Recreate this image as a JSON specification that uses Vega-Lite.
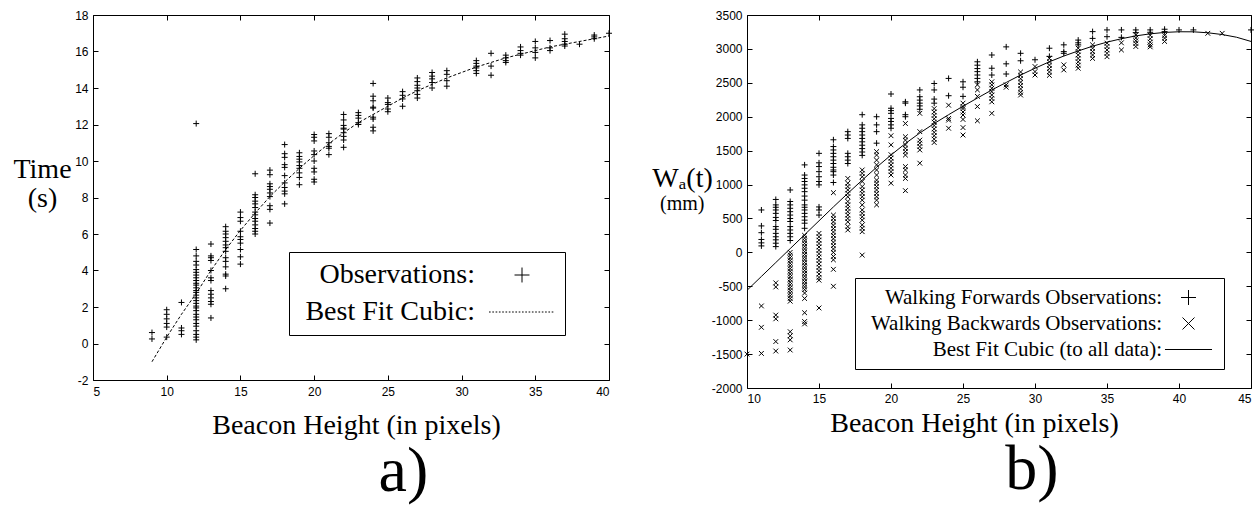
{
  "$schema": "https://vega.github.io/schema/vega-lite/v6.json",
  "padding": {"left": 12, "top": 8, "right": 2, "bottom": 2},
  "config": {
    "view": {"stroke": "black", "strokeWidth": 1},
    "axis": {"grid": false, "domain": false, "tickColor": "black", "tickWidth": 1, "tickSize": -5, "labelFont": "Liberation Sans", "labelFontSize": 12, "labelColor": "black", "labelPadding": 10, "titleFont": "Liberation Serif", "titleFontSize": 28, "titleFontWeight": "normal", "titleColor": "black", "labelExpr": "replace(datum.label, '\u2212', '-')"},
    "title": {"font": "Liberation Serif", "fontWeight": "normal", "color": "black"},
    "legend": {"labelFont": "Liberation Serif", "labelColor": "black", "labelLimit": 0, "title": null}
  },
  "datasets": {
    "obsA": [
      {"h":9,"v":0.6,"s":"Observations:"},{"h":9,"v":0.25,"s":"Observations:"},
      {"h":10,"v":1.85,"s":"Observations:"},{"h":10,"v":1.6,"s":"Observations:"},{"h":10,"v":1.35,"s":"Observations:"},{"h":10,"v":1.1,"s":"Observations:"},{"h":10,"v":0.9,"s":"Observations:"},{"h":10,"v":0.35,"s":"Observations:"},
      {"h":11,"v":2.25,"s":"Observations:"},{"h":11,"v":0.85,"s":"Observations:"},{"h":11,"v":0.7,"s":"Observations:"},{"h":11,"v":0.5,"s":"Observations:"},
      {"h":12,"v":12.05,"s":"Observations:"},{"h":12,"v":5.15,"s":"Observations:"},{"h":12,"v":4.8,"s":"Observations:"},{"h":12,"v":4.5,"s":"Observations:"},{"h":12,"v":4.3,"s":"Observations:"},{"h":12,"v":4.05,"s":"Observations:"},{"h":12,"v":3.9,"s":"Observations:"},{"h":12,"v":3.75,"s":"Observations:"},{"h":12,"v":3.6,"s":"Observations:"},{"h":12,"v":3.45,"s":"Observations:"},{"h":12,"v":3.3,"s":"Observations:"},{"h":12,"v":3.2,"s":"Observations:"},{"h":12,"v":3.05,"s":"Observations:"},{"h":12,"v":2.9,"s":"Observations:"},{"h":12,"v":2.8,"s":"Observations:"},{"h":12,"v":2.65,"s":"Observations:"},{"h":12,"v":2.5,"s":"Observations:"},{"h":12,"v":2.35,"s":"Observations:"},{"h":12,"v":2.2,"s":"Observations:"},{"h":12,"v":2.05,"s":"Observations:"},{"h":12,"v":1.95,"s":"Observations:"},{"h":12,"v":1.8,"s":"Observations:"},{"h":12,"v":1.6,"s":"Observations:"},{"h":12,"v":1.45,"s":"Observations:"},{"h":12,"v":1.3,"s":"Observations:"},{"h":12,"v":1.1,"s":"Observations:"},{"h":12,"v":0.95,"s":"Observations:"},{"h":12,"v":0.7,"s":"Observations:"},{"h":12,"v":0.5,"s":"Observations:"},{"h":12,"v":0.35,"s":"Observations:"},{"h":12,"v":0.2,"s":"Observations:"},
      {"h":13,"v":5.45,"s":"Observations:"},{"h":13,"v":4.8,"s":"Observations:"},{"h":13,"v":4.7,"s":"Observations:"},{"h":13,"v":4.55,"s":"Observations:"},{"h":13,"v":4.0,"s":"Observations:"},{"h":13,"v":3.6,"s":"Observations:"},{"h":13,"v":3.45,"s":"Observations:"},{"h":13,"v":2.9,"s":"Observations:"},{"h":13,"v":2.7,"s":"Observations:"},{"h":13,"v":2.5,"s":"Observations:"},{"h":13,"v":2.3,"s":"Observations:"},{"h":13,"v":2.15,"s":"Observations:"},{"h":13,"v":1.4,"s":"Observations:"},
      {"h":14,"v":6.4,"s":"Observations:"},{"h":14,"v":6.15,"s":"Observations:"},{"h":14,"v":6.0,"s":"Observations:"},{"h":14,"v":5.8,"s":"Observations:"},{"h":14,"v":5.6,"s":"Observations:"},{"h":14,"v":5.4,"s":"Observations:"},{"h":14,"v":5.25,"s":"Observations:"},{"h":14,"v":5.05,"s":"Observations:"},{"h":14,"v":4.7,"s":"Observations:"},{"h":14,"v":4.5,"s":"Observations:"},{"h":14,"v":4.2,"s":"Observations:"},{"h":14,"v":3.8,"s":"Observations:"},{"h":14,"v":3.7,"s":"Observations:"},{"h":14,"v":3.0,"s":"Observations:"},
      {"h":15,"v":7.2,"s":"Observations:"},{"h":15,"v":6.9,"s":"Observations:"},{"h":15,"v":6.7,"s":"Observations:"},{"h":15,"v":6.15,"s":"Observations:"},{"h":15,"v":5.85,"s":"Observations:"},{"h":15,"v":5.7,"s":"Observations:"},{"h":15,"v":5.5,"s":"Observations:"},{"h":15,"v":5.15,"s":"Observations:"},{"h":15,"v":4.75,"s":"Observations:"},{"h":15,"v":4.35,"s":"Observations:"},
      {"h":16,"v":9.3,"s":"Observations:"},{"h":16,"v":8.15,"s":"Observations:"},{"h":16,"v":8.0,"s":"Observations:"},{"h":16,"v":7.8,"s":"Observations:"},{"h":16,"v":7.65,"s":"Observations:"},{"h":16,"v":7.45,"s":"Observations:"},{"h":16,"v":7.2,"s":"Observations:"},{"h":16,"v":7.05,"s":"Observations:"},{"h":16,"v":6.85,"s":"Observations:"},{"h":16,"v":6.7,"s":"Observations:"},{"h":16,"v":6.5,"s":"Observations:"},{"h":16,"v":6.3,"s":"Observations:"},{"h":16,"v":6.15,"s":"Observations:"},{"h":16,"v":6.0,"s":"Observations:"},
      {"h":17,"v":9.5,"s":"Observations:"},{"h":17,"v":9.25,"s":"Observations:"},{"h":17,"v":8.75,"s":"Observations:"},{"h":17,"v":8.6,"s":"Observations:"},{"h":17,"v":8.45,"s":"Observations:"},{"h":17,"v":8.25,"s":"Observations:"},{"h":17,"v":8.05,"s":"Observations:"},{"h":17,"v":7.55,"s":"Observations:"},{"h":17,"v":7.35,"s":"Observations:"},{"h":17,"v":6.6,"s":"Observations:"},
      {"h":18,"v":10.9,"s":"Observations:"},{"h":18,"v":10.4,"s":"Observations:"},{"h":18,"v":10.2,"s":"Observations:"},{"h":18,"v":9.8,"s":"Observations:"},{"h":18,"v":9.65,"s":"Observations:"},{"h":18,"v":9.2,"s":"Observations:"},{"h":18,"v":8.8,"s":"Observations:"},{"h":18,"v":8.55,"s":"Observations:"},{"h":18,"v":8.35,"s":"Observations:"},{"h":18,"v":8.2,"s":"Observations:"},{"h":18,"v":7.65,"s":"Observations:"},
      {"h":19,"v":10.45,"s":"Observations:"},{"h":19,"v":10.25,"s":"Observations:"},{"h":19,"v":10.1,"s":"Observations:"},{"h":19,"v":9.95,"s":"Observations:"},{"h":19,"v":9.75,"s":"Observations:"},{"h":19,"v":9.6,"s":"Observations:"},{"h":19,"v":9.35,"s":"Observations:"},{"h":19,"v":9.1,"s":"Observations:"},{"h":19,"v":8.7,"s":"Observations:"},
      {"h":20,"v":11.45,"s":"Observations:"},{"h":20,"v":11.3,"s":"Observations:"},{"h":20,"v":11.1,"s":"Observations:"},{"h":20,"v":10.55,"s":"Observations:"},{"h":20,"v":10.35,"s":"Observations:"},{"h":20,"v":10.0,"s":"Observations:"},{"h":20,"v":9.6,"s":"Observations:"},{"h":20,"v":9.4,"s":"Observations:"},{"h":20,"v":9.0,"s":"Observations:"},{"h":20,"v":8.85,"s":"Observations:"},
      {"h":21,"v":11.5,"s":"Observations:"},{"h":21,"v":11.3,"s":"Observations:"},{"h":21,"v":11.0,"s":"Observations:"},{"h":21,"v":10.8,"s":"Observations:"},{"h":21,"v":10.7,"s":"Observations:"},{"h":21,"v":10.35,"s":"Observations:"},
      {"h":22,"v":12.55,"s":"Observations:"},{"h":22,"v":12.25,"s":"Observations:"},{"h":22,"v":11.95,"s":"Observations:"},{"h":22,"v":11.8,"s":"Observations:"},{"h":22,"v":11.75,"s":"Observations:"},{"h":22,"v":11.55,"s":"Observations:"},{"h":22,"v":11.35,"s":"Observations:"},{"h":22,"v":11.15,"s":"Observations:"},{"h":22,"v":10.75,"s":"Observations:"},
      {"h":23,"v":12.65,"s":"Observations:"},{"h":23,"v":12.5,"s":"Observations:"},{"h":23,"v":12.35,"s":"Observations:"},{"h":23,"v":12.1,"s":"Observations:"},{"h":23,"v":12.0,"s":"Observations:"},
      {"h":24,"v":14.25,"s":"Observations:"},{"h":24,"v":13.55,"s":"Observations:"},{"h":24,"v":13.3,"s":"Observations:"},{"h":24,"v":12.95,"s":"Observations:"},{"h":24,"v":12.9,"s":"Observations:"},{"h":24,"v":12.4,"s":"Observations:"},{"h":24,"v":12.3,"s":"Observations:"},{"h":24,"v":11.85,"s":"Observations:"},{"h":24,"v":11.65,"s":"Observations:"},
      {"h":25,"v":13.45,"s":"Observations:"},{"h":25,"v":13.2,"s":"Observations:"},{"h":25,"v":13.1,"s":"Observations:"},{"h":25,"v":12.85,"s":"Observations:"},{"h":25,"v":12.7,"s":"Observations:"},
      {"h":26,"v":13.8,"s":"Observations:"},{"h":26,"v":13.6,"s":"Observations:"},{"h":26,"v":13.4,"s":"Observations:"},{"h":26,"v":13.0,"s":"Observations:"},
      {"h":27,"v":14.55,"s":"Observations:"},{"h":27,"v":14.35,"s":"Observations:"},{"h":27,"v":14.15,"s":"Observations:"},{"h":27,"v":14.0,"s":"Observations:"},{"h":27,"v":13.85,"s":"Observations:"},{"h":27,"v":13.65,"s":"Observations:"},{"h":27,"v":13.45,"s":"Observations:"},
      {"h":28,"v":14.85,"s":"Observations:"},{"h":28,"v":14.65,"s":"Observations:"},{"h":28,"v":14.5,"s":"Observations:"},{"h":28,"v":14.3,"s":"Observations:"},{"h":28,"v":14.0,"s":"Observations:"},
      {"h":29,"v":14.95,"s":"Observations:"},{"h":29,"v":14.75,"s":"Observations:"},{"h":29,"v":14.4,"s":"Observations:"},{"h":29,"v":14.1,"s":"Observations:"},
      {"h":31,"v":15.5,"s":"Observations:"},{"h":31,"v":15.35,"s":"Observations:"},{"h":31,"v":15.2,"s":"Observations:"},{"h":31,"v":15.1,"s":"Observations:"},{"h":31,"v":14.95,"s":"Observations:"},{"h":31,"v":14.8,"s":"Observations:"},
      {"h":32,"v":15.9,"s":"Observations:"},{"h":32,"v":15.2,"s":"Observations:"},{"h":32,"v":14.7,"s":"Observations:"},
      {"h":33,"v":15.8,"s":"Observations:"},{"h":33,"v":15.65,"s":"Observations:"},{"h":33,"v":15.5,"s":"Observations:"},{"h":33,"v":15.4,"s":"Observations:"},
      {"h":34,"v":16.25,"s":"Observations:"},{"h":34,"v":16.05,"s":"Observations:"},{"h":34,"v":15.9,"s":"Observations:"},{"h":34,"v":15.8,"s":"Observations:"},
      {"h":35,"v":16.55,"s":"Observations:"},{"h":35,"v":16.2,"s":"Observations:"},{"h":35,"v":15.95,"s":"Observations:"},{"h":35,"v":15.65,"s":"Observations:"},
      {"h":36,"v":16.6,"s":"Observations:"},{"h":36,"v":16.2,"s":"Observations:"},{"h":36,"v":16.05,"s":"Observations:"},
      {"h":37,"v":16.95,"s":"Observations:"},{"h":37,"v":16.7,"s":"Observations:"},{"h":37,"v":16.55,"s":"Observations:"},{"h":37,"v":16.4,"s":"Observations:"},{"h":37,"v":16.3,"s":"Observations:"},
      {"h":38,"v":16.4,"s":"Observations:"},
      {"h":39,"v":16.9,"s":"Observations:"},{"h":39,"v":16.8,"s":"Observations:"},{"h":39,"v":16.7,"s":"Observations:"},
      {"h":40,"v":17.0,"s":"Observations:"}
    ],
    "fitA": [
      {"h":9,"v":-1.0},{"h":10,"v":0.35},{"h":11,"v":1.6},{"h":12,"v":2.75},{"h":13,"v":4.0},{"h":14,"v":5.15},{"h":15,"v":6.2},{"h":16,"v":7.15},{"h":17,"v":8.05},{"h":18,"v":8.85},{"h":19,"v":9.6},{"h":20,"v":10.3},{"h":21,"v":10.95},{"h":22,"v":11.55},{"h":23,"v":12.1},{"h":24,"v":12.55},{"h":25,"v":13.0},{"h":26,"v":13.45},{"h":27,"v":13.85},{"h":28,"v":14.2},{"h":29,"v":14.55},{"h":30,"v":14.85},{"h":31,"v":15.15},{"h":32,"v":15.4},{"h":33,"v":15.65},{"h":34,"v":15.85},{"h":35,"v":16.05},{"h":36,"v":16.25},{"h":37,"v":16.4},{"h":38,"v":16.55},{"h":39,"v":16.7},{"h":40,"v":16.85}
    ],
    "obsB": [
      {"h":11,"v":625,"s":"Walking Forwards Observations:"},{"h":11,"v":390,"s":"Walking Forwards Observations:"},{"h":11,"v":290,"s":"Walking Forwards Observations:"},{"h":11,"v":190,"s":"Walking Forwards Observations:"},{"h":11,"v":140,"s":"Walking Forwards Observations:"},{"h":11,"v":95,"s":"Walking Forwards Observations:"},
      {"h":12,"v":780,"s":"Walking Forwards Observations:"},{"h":12,"v":700,"s":"Walking Forwards Observations:"},{"h":12,"v":665,"s":"Walking Forwards Observations:"},{"h":12,"v":625,"s":"Walking Forwards Observations:"},{"h":12,"v":575,"s":"Walking Forwards Observations:"},{"h":12,"v":515,"s":"Walking Forwards Observations:"},{"h":12,"v":470,"s":"Walking Forwards Observations:"},{"h":12,"v":380,"s":"Walking Forwards Observations:"},{"h":12,"v":340,"s":"Walking Forwards Observations:"},{"h":12,"v":280,"s":"Walking Forwards Observations:"},{"h":12,"v":230,"s":"Walking Forwards Observations:"},{"h":12,"v":185,"s":"Walking Forwards Observations:"},{"h":12,"v":135,"s":"Walking Forwards Observations:"},{"h":12,"v":85,"s":"Walking Forwards Observations:"},
      {"h":13,"v":920,"s":"Walking Forwards Observations:"},{"h":13,"v":750,"s":"Walking Forwards Observations:"},{"h":13,"v":700,"s":"Walking Forwards Observations:"},{"h":13,"v":650,"s":"Walking Forwards Observations:"},{"h":13,"v":600,"s":"Walking Forwards Observations:"},{"h":13,"v":550,"s":"Walking Forwards Observations:"},{"h":13,"v":500,"s":"Walking Forwards Observations:"},{"h":13,"v":455,"s":"Walking Forwards Observations:"},{"h":13,"v":380,"s":"Walking Forwards Observations:"},{"h":13,"v":330,"s":"Walking Forwards Observations:"},{"h":13,"v":280,"s":"Walking Forwards Observations:"},{"h":13,"v":230,"s":"Walking Forwards Observations:"},{"h":13,"v":175,"s":"Walking Forwards Observations:"},
      {"h":14,"v":1290,"s":"Walking Forwards Observations:"},{"h":14,"v":1140,"s":"Walking Forwards Observations:"},{"h":14,"v":1090,"s":"Walking Forwards Observations:"},{"h":14,"v":1045,"s":"Walking Forwards Observations:"},{"h":14,"v":995,"s":"Walking Forwards Observations:"},{"h":14,"v":945,"s":"Walking Forwards Observations:"},{"h":14,"v":895,"s":"Walking Forwards Observations:"},{"h":14,"v":830,"s":"Walking Forwards Observations:"},{"h":14,"v":770,"s":"Walking Forwards Observations:"},{"h":14,"v":700,"s":"Walking Forwards Observations:"},{"h":14,"v":665,"s":"Walking Forwards Observations:"},{"h":14,"v":625,"s":"Walking Forwards Observations:"},{"h":14,"v":575,"s":"Walking Forwards Observations:"},{"h":14,"v":525,"s":"Walking Forwards Observations:"},{"h":14,"v":475,"s":"Walking Forwards Observations:"},{"h":14,"v":430,"s":"Walking Forwards Observations:"},{"h":14,"v":355,"s":"Walking Forwards Observations:"},
      {"h":15,"v":1460,"s":"Walking Forwards Observations:"},{"h":15,"v":1320,"s":"Walking Forwards Observations:"},{"h":15,"v":1265,"s":"Walking Forwards Observations:"},{"h":15,"v":1190,"s":"Walking Forwards Observations:"},{"h":15,"v":1115,"s":"Walking Forwards Observations:"},{"h":15,"v":1045,"s":"Walking Forwards Observations:"},{"h":15,"v":995,"s":"Walking Forwards Observations:"},{"h":15,"v":670,"s":"Walking Forwards Observations:"},{"h":15,"v":625,"s":"Walking Forwards Observations:"},{"h":15,"v":550,"s":"Walking Forwards Observations:"},
      {"h":16,"v":1660,"s":"Walking Forwards Observations:"},{"h":16,"v":1560,"s":"Walking Forwards Observations:"},{"h":16,"v":1510,"s":"Walking Forwards Observations:"},{"h":16,"v":1460,"s":"Walking Forwards Observations:"},{"h":16,"v":1410,"s":"Walking Forwards Observations:"},{"h":16,"v":1360,"s":"Walking Forwards Observations:"},{"h":16,"v":1310,"s":"Walking Forwards Observations:"},{"h":16,"v":1255,"s":"Walking Forwards Observations:"},{"h":16,"v":1215,"s":"Walking Forwards Observations:"},{"h":16,"v":1190,"s":"Walking Forwards Observations:"},{"h":16,"v":1140,"s":"Walking Forwards Observations:"},{"h":16,"v":1030,"s":"Walking Forwards Observations:"},
      {"h":17,"v":1780,"s":"Walking Forwards Observations:"},{"h":17,"v":1730,"s":"Walking Forwards Observations:"},{"h":17,"v":1680,"s":"Walking Forwards Observations:"},{"h":17,"v":1460,"s":"Walking Forwards Observations:"},{"h":17,"v":1410,"s":"Walking Forwards Observations:"},{"h":17,"v":1360,"s":"Walking Forwards Observations:"},{"h":17,"v":1310,"s":"Walking Forwards Observations:"},
      {"h":18,"v":2030,"s":"Walking Forwards Observations:"},{"h":18,"v":1880,"s":"Walking Forwards Observations:"},{"h":18,"v":1830,"s":"Walking Forwards Observations:"},{"h":18,"v":1780,"s":"Walking Forwards Observations:"},{"h":18,"v":1730,"s":"Walking Forwards Observations:"},{"h":18,"v":1680,"s":"Walking Forwards Observations:"},{"h":18,"v":1630,"s":"Walking Forwards Observations:"},{"h":18,"v":1580,"s":"Walking Forwards Observations:"},{"h":18,"v":1530,"s":"Walking Forwards Observations:"},{"h":18,"v":1480,"s":"Walking Forwards Observations:"},{"h":18,"v":1430,"s":"Walking Forwards Observations:"},
      {"h":19,"v":2000,"s":"Walking Forwards Observations:"},{"h":19,"v":1880,"s":"Walking Forwards Observations:"},{"h":19,"v":1780,"s":"Walking Forwards Observations:"},{"h":19,"v":1610,"s":"Walking Forwards Observations:"},
      {"h":20,"v":2335,"s":"Walking Forwards Observations:"},{"h":20,"v":2125,"s":"Walking Forwards Observations:"},{"h":20,"v":2090,"s":"Walking Forwards Observations:"},{"h":20,"v":2050,"s":"Walking Forwards Observations:"},{"h":20,"v":1975,"s":"Walking Forwards Observations:"},{"h":20,"v":1930,"s":"Walking Forwards Observations:"},{"h":20,"v":1880,"s":"Walking Forwards Observations:"},{"h":20,"v":1830,"s":"Walking Forwards Observations:"},
      {"h":21,"v":2220,"s":"Walking Forwards Observations:"},{"h":21,"v":2200,"s":"Walking Forwards Observations:"},{"h":21,"v":2030,"s":"Walking Forwards Observations:"},{"h":21,"v":2000,"s":"Walking Forwards Observations:"},
      {"h":22,"v":2395,"s":"Walking Forwards Observations:"},{"h":22,"v":2295,"s":"Walking Forwards Observations:"},{"h":22,"v":2245,"s":"Walking Forwards Observations:"},{"h":22,"v":2200,"s":"Walking Forwards Observations:"},{"h":22,"v":2160,"s":"Walking Forwards Observations:"},{"h":22,"v":2110,"s":"Walking Forwards Observations:"},
      {"h":23,"v":2490,"s":"Walking Forwards Observations:"},{"h":23,"v":2395,"s":"Walking Forwards Observations:"},{"h":23,"v":2260,"s":"Walking Forwards Observations:"},{"h":23,"v":2200,"s":"Walking Forwards Observations:"},
      {"h":24,"v":2565,"s":"Walking Forwards Observations:"},{"h":24,"v":2310,"s":"Walking Forwards Observations:"},
      {"h":25,"v":2515,"s":"Walking Forwards Observations:"},{"h":25,"v":2435,"s":"Walking Forwards Observations:"},{"h":25,"v":2300,"s":"Walking Forwards Observations:"},
      {"h":26,"v":2810,"s":"Walking Forwards Observations:"},{"h":26,"v":2760,"s":"Walking Forwards Observations:"},{"h":26,"v":2710,"s":"Walking Forwards Observations:"},{"h":26,"v":2665,"s":"Walking Forwards Observations:"},{"h":26,"v":2615,"s":"Walking Forwards Observations:"},{"h":26,"v":2565,"s":"Walking Forwards Observations:"},{"h":26,"v":2515,"s":"Walking Forwards Observations:"},
      {"h":27,"v":2910,"s":"Walking Forwards Observations:"},{"h":27,"v":2715,"s":"Walking Forwards Observations:"},{"h":27,"v":2615,"s":"Walking Forwards Observations:"},
      {"h":28,"v":3030,"s":"Walking Forwards Observations:"},{"h":28,"v":2780,"s":"Walking Forwards Observations:"},{"h":28,"v":2630,"s":"Walking Forwards Observations:"},
      {"h":29,"v":2935,"s":"Walking Forwards Observations:"},{"h":29,"v":2825,"s":"Walking Forwards Observations:"},
      {"h":30,"v":2840,"s":"Walking Forwards Observations:"},
      {"h":31,"v":3010,"s":"Walking Forwards Observations:"},{"h":31,"v":2890,"s":"Walking Forwards Observations:"},
      {"h":32,"v":3060,"s":"Walking Forwards Observations:"},{"h":32,"v":2960,"s":"Walking Forwards Observations:"},{"h":32,"v":2935,"s":"Walking Forwards Observations:"},
      {"h":33,"v":3130,"s":"Walking Forwards Observations:"},{"h":33,"v":3090,"s":"Walking Forwards Observations:"},{"h":33,"v":3060,"s":"Walking Forwards Observations:"},
      {"h":34,"v":3255,"s":"Walking Forwards Observations:"},{"h":34,"v":3155,"s":"Walking Forwards Observations:"},
      {"h":35,"v":3280,"s":"Walking Forwards Observations:"},{"h":35,"v":3180,"s":"Walking Forwards Observations:"},
      {"h":36,"v":3280,"s":"Walking Forwards Observations:"},{"h":36,"v":3170,"s":"Walking Forwards Observations:"},
      {"h":37,"v":3280,"s":"Walking Forwards Observations:"},{"h":37,"v":3240,"s":"Walking Forwards Observations:"},
      {"h":38,"v":3280,"s":"Walking Forwards Observations:"},{"h":38,"v":3245,"s":"Walking Forwards Observations:"},
      {"h":39,"v":3290,"s":"Walking Forwards Observations:"},{"h":39,"v":3255,"s":"Walking Forwards Observations:"},
      {"h":40,"v":3280,"s":"Walking Forwards Observations:"},{"h":41,"v":3280,"s":"Walking Forwards Observations:"},{"h":45,"v":3280,"s":"Walking Forwards Observations:"},
      {"h":10,"v":-1500,"s":"Walking Backwards Observations:"},
      {"h":11,"v":-790,"s":"Walking Backwards Observations:"},{"h":11,"v":-1105,"s":"Walking Backwards Observations:"},{"h":11,"v":-1490,"s":"Walking Backwards Observations:"},
      {"h":12,"v":-450,"s":"Walking Backwards Observations:"},{"h":12,"v":-510,"s":"Walking Backwards Observations:"},{"h":12,"v":-925,"s":"Walking Backwards Observations:"},{"h":12,"v":-980,"s":"Walking Backwards Observations:"},{"h":12,"v":-1315,"s":"Walking Backwards Observations:"},{"h":12,"v":-1455,"s":"Walking Backwards Observations:"},
      {"h":13,"v":0,"s":"Walking Backwards Observations:"},{"h":13,"v":-40,"s":"Walking Backwards Observations:"},{"h":13,"v":-80,"s":"Walking Backwards Observations:"},{"h":13,"v":-120,"s":"Walking Backwards Observations:"},{"h":13,"v":-160,"s":"Walking Backwards Observations:"},{"h":13,"v":-200,"s":"Walking Backwards Observations:"},{"h":13,"v":-240,"s":"Walking Backwards Observations:"},{"h":13,"v":-280,"s":"Walking Backwards Observations:"},{"h":13,"v":-320,"s":"Walking Backwards Observations:"},{"h":13,"v":-360,"s":"Walking Backwards Observations:"},{"h":13,"v":-400,"s":"Walking Backwards Observations:"},{"h":13,"v":-440,"s":"Walking Backwards Observations:"},{"h":13,"v":-480,"s":"Walking Backwards Observations:"},{"h":13,"v":-520,"s":"Walking Backwards Observations:"},{"h":13,"v":-560,"s":"Walking Backwards Observations:"},{"h":13,"v":-600,"s":"Walking Backwards Observations:"},{"h":13,"v":-640,"s":"Walking Backwards Observations:"},{"h":13,"v":-680,"s":"Walking Backwards Observations:"},{"h":13,"v":-720,"s":"Walking Backwards Observations:"},{"h":13,"v":-1170,"s":"Walking Backwards Observations:"},{"h":13,"v":-1230,"s":"Walking Backwards Observations:"},{"h":13,"v":-1290,"s":"Walking Backwards Observations:"},{"h":13,"v":-1440,"s":"Walking Backwards Observations:"},
      {"h":14,"v":250,"s":"Walking Backwards Observations:"},{"h":14,"v":210,"s":"Walking Backwards Observations:"},{"h":14,"v":170,"s":"Walking Backwards Observations:"},{"h":14,"v":130,"s":"Walking Backwards Observations:"},{"h":14,"v":90,"s":"Walking Backwards Observations:"},{"h":14,"v":50,"s":"Walking Backwards Observations:"},{"h":14,"v":10,"s":"Walking Backwards Observations:"},{"h":14,"v":-30,"s":"Walking Backwards Observations:"},{"h":14,"v":-70,"s":"Walking Backwards Observations:"},{"h":14,"v":-110,"s":"Walking Backwards Observations:"},{"h":14,"v":-150,"s":"Walking Backwards Observations:"},{"h":14,"v":-190,"s":"Walking Backwards Observations:"},{"h":14,"v":-230,"s":"Walking Backwards Observations:"},{"h":14,"v":-270,"s":"Walking Backwards Observations:"},{"h":14,"v":-310,"s":"Walking Backwards Observations:"},{"h":14,"v":-350,"s":"Walking Backwards Observations:"},{"h":14,"v":-390,"s":"Walking Backwards Observations:"},{"h":14,"v":-430,"s":"Walking Backwards Observations:"},{"h":14,"v":-470,"s":"Walking Backwards Observations:"},{"h":14,"v":-510,"s":"Walking Backwards Observations:"},{"h":14,"v":-550,"s":"Walking Backwards Observations:"},{"h":14,"v":-600,"s":"Walking Backwards Observations:"},{"h":14,"v":-680,"s":"Walking Backwards Observations:"},{"h":14,"v":-890,"s":"Walking Backwards Observations:"},{"h":14,"v":-1020,"s":"Walking Backwards Observations:"},{"h":14,"v":-1055,"s":"Walking Backwards Observations:"},
      {"h":15,"v":280,"s":"Walking Backwards Observations:"},{"h":15,"v":230,"s":"Walking Backwards Observations:"},{"h":15,"v":180,"s":"Walking Backwards Observations:"},{"h":15,"v":130,"s":"Walking Backwards Observations:"},{"h":15,"v":80,"s":"Walking Backwards Observations:"},{"h":15,"v":30,"s":"Walking Backwards Observations:"},{"h":15,"v":-20,"s":"Walking Backwards Observations:"},{"h":15,"v":-70,"s":"Walking Backwards Observations:"},{"h":15,"v":-120,"s":"Walking Backwards Observations:"},{"h":15,"v":-170,"s":"Walking Backwards Observations:"},{"h":15,"v":-220,"s":"Walking Backwards Observations:"},{"h":15,"v":-270,"s":"Walking Backwards Observations:"},{"h":15,"v":-320,"s":"Walking Backwards Observations:"},{"h":15,"v":-370,"s":"Walking Backwards Observations:"},{"h":15,"v":-410,"s":"Walking Backwards Observations:"},{"h":15,"v":-820,"s":"Walking Backwards Observations:"},
      {"h":16,"v":880,"s":"Walking Backwards Observations:"},{"h":16,"v":550,"s":"Walking Backwards Observations:"},{"h":16,"v":500,"s":"Walking Backwards Observations:"},{"h":16,"v":450,"s":"Walking Backwards Observations:"},{"h":16,"v":400,"s":"Walking Backwards Observations:"},{"h":16,"v":350,"s":"Walking Backwards Observations:"},{"h":16,"v":300,"s":"Walking Backwards Observations:"},{"h":16,"v":250,"s":"Walking Backwards Observations:"},{"h":16,"v":200,"s":"Walking Backwards Observations:"},{"h":16,"v":150,"s":"Walking Backwards Observations:"},{"h":16,"v":100,"s":"Walking Backwards Observations:"},{"h":16,"v":50,"s":"Walking Backwards Observations:"},{"h":16,"v":0,"s":"Walking Backwards Observations:"},{"h":16,"v":-60,"s":"Walking Backwards Observations:"},{"h":16,"v":-110,"s":"Walking Backwards Observations:"},{"h":16,"v":-250,"s":"Walking Backwards Observations:"},{"h":16,"v":-500,"s":"Walking Backwards Observations:"},
      {"h":17,"v":1090,"s":"Walking Backwards Observations:"},{"h":17,"v":1020,"s":"Walking Backwards Observations:"},{"h":17,"v":970,"s":"Walking Backwards Observations:"},{"h":17,"v":920,"s":"Walking Backwards Observations:"},{"h":17,"v":870,"s":"Walking Backwards Observations:"},{"h":17,"v":820,"s":"Walking Backwards Observations:"},{"h":17,"v":750,"s":"Walking Backwards Observations:"},{"h":17,"v":700,"s":"Walking Backwards Observations:"},{"h":17,"v":650,"s":"Walking Backwards Observations:"},{"h":17,"v":600,"s":"Walking Backwards Observations:"},{"h":17,"v":550,"s":"Walking Backwards Observations:"},{"h":17,"v":500,"s":"Walking Backwards Observations:"},{"h":17,"v":450,"s":"Walking Backwards Observations:"},{"h":17,"v":380,"s":"Walking Backwards Observations:"},{"h":17,"v":330,"s":"Walking Backwards Observations:"},
      {"h":18,"v":1215,"s":"Walking Backwards Observations:"},{"h":18,"v":1165,"s":"Walking Backwards Observations:"},{"h":18,"v":1115,"s":"Walking Backwards Observations:"},{"h":18,"v":1045,"s":"Walking Backwards Observations:"},{"h":18,"v":970,"s":"Walking Backwards Observations:"},{"h":18,"v":920,"s":"Walking Backwards Observations:"},{"h":18,"v":870,"s":"Walking Backwards Observations:"},{"h":18,"v":820,"s":"Walking Backwards Observations:"},{"h":18,"v":770,"s":"Walking Backwards Observations:"},{"h":18,"v":700,"s":"Walking Backwards Observations:"},{"h":18,"v":625,"s":"Walking Backwards Observations:"},{"h":18,"v":575,"s":"Walking Backwards Observations:"},{"h":18,"v":525,"s":"Walking Backwards Observations:"},{"h":18,"v":475,"s":"Walking Backwards Observations:"},{"h":18,"v":405,"s":"Walking Backwards Observations:"},{"h":18,"v":355,"s":"Walking Backwards Observations:"},{"h":18,"v":305,"s":"Walking Backwards Observations:"},{"h":18,"v":-40,"s":"Walking Backwards Observations:"},
      {"h":19,"v":1485,"s":"Walking Backwards Observations:"},{"h":19,"v":1435,"s":"Walking Backwards Observations:"},{"h":19,"v":1360,"s":"Walking Backwards Observations:"},{"h":19,"v":1290,"s":"Walking Backwards Observations:"},{"h":19,"v":1215,"s":"Walking Backwards Observations:"},{"h":19,"v":1140,"s":"Walking Backwards Observations:"},{"h":19,"v":1065,"s":"Walking Backwards Observations:"},{"h":19,"v":1020,"s":"Walking Backwards Observations:"},{"h":19,"v":970,"s":"Walking Backwards Observations:"},{"h":19,"v":920,"s":"Walking Backwards Observations:"},{"h":19,"v":870,"s":"Walking Backwards Observations:"},{"h":19,"v":820,"s":"Walking Backwards Observations:"},{"h":19,"v":770,"s":"Walking Backwards Observations:"},{"h":19,"v":700,"s":"Walking Backwards Observations:"},
      {"h":20,"v":1720,"s":"Walking Backwards Observations:"},{"h":20,"v":1585,"s":"Walking Backwards Observations:"},{"h":20,"v":1440,"s":"Walking Backwards Observations:"},{"h":20,"v":1390,"s":"Walking Backwards Observations:"},{"h":20,"v":1340,"s":"Walking Backwards Observations:"},{"h":20,"v":1290,"s":"Walking Backwards Observations:"},{"h":20,"v":1240,"s":"Walking Backwards Observations:"},{"h":20,"v":1190,"s":"Walking Backwards Observations:"},{"h":20,"v":1140,"s":"Walking Backwards Observations:"},{"h":20,"v":1020,"s":"Walking Backwards Observations:"},
      {"h":21,"v":1900,"s":"Walking Backwards Observations:"},{"h":21,"v":1705,"s":"Walking Backwards Observations:"},{"h":21,"v":1655,"s":"Walking Backwards Observations:"},{"h":21,"v":1585,"s":"Walking Backwards Observations:"},{"h":21,"v":1535,"s":"Walking Backwards Observations:"},{"h":21,"v":1485,"s":"Walking Backwards Observations:"},{"h":21,"v":1435,"s":"Walking Backwards Observations:"},{"h":21,"v":1265,"s":"Walking Backwards Observations:"},{"h":21,"v":1215,"s":"Walking Backwards Observations:"},{"h":21,"v":1140,"s":"Walking Backwards Observations:"},{"h":21,"v":1090,"s":"Walking Backwards Observations:"},{"h":21,"v":910,"s":"Walking Backwards Observations:"},
      {"h":22,"v":2050,"s":"Walking Backwards Observations:"},{"h":22,"v":1780,"s":"Walking Backwards Observations:"},{"h":22,"v":1655,"s":"Walking Backwards Observations:"},{"h":22,"v":1610,"s":"Walking Backwards Observations:"},{"h":22,"v":1560,"s":"Walking Backwards Observations:"},{"h":22,"v":1510,"s":"Walking Backwards Observations:"},{"h":22,"v":1315,"s":"Walking Backwards Observations:"},
      {"h":23,"v":2120,"s":"Walking Backwards Observations:"},{"h":23,"v":2070,"s":"Walking Backwards Observations:"},{"h":23,"v":2020,"s":"Walking Backwards Observations:"},{"h":23,"v":1970,"s":"Walking Backwards Observations:"},{"h":23,"v":1920,"s":"Walking Backwards Observations:"},{"h":23,"v":1870,"s":"Walking Backwards Observations:"},{"h":23,"v":1820,"s":"Walking Backwards Observations:"},{"h":23,"v":1770,"s":"Walking Backwards Observations:"},{"h":23,"v":1720,"s":"Walking Backwards Observations:"},{"h":23,"v":1670,"s":"Walking Backwards Observations:"},{"h":23,"v":1620,"s":"Walking Backwards Observations:"},
      {"h":24,"v":2170,"s":"Walking Backwards Observations:"},{"h":24,"v":1975,"s":"Walking Backwards Observations:"},{"h":24,"v":1950,"s":"Walking Backwards Observations:"},{"h":24,"v":1830,"s":"Walking Backwards Observations:"},
      {"h":25,"v":2200,"s":"Walking Backwards Observations:"},{"h":25,"v":2150,"s":"Walking Backwards Observations:"},{"h":25,"v":2120,"s":"Walking Backwards Observations:"},{"h":25,"v":2070,"s":"Walking Backwards Observations:"},{"h":25,"v":2025,"s":"Walking Backwards Observations:"},{"h":25,"v":1960,"s":"Walking Backwards Observations:"},{"h":25,"v":1840,"s":"Walking Backwards Observations:"},{"h":25,"v":1730,"s":"Walking Backwards Observations:"},
      {"h":26,"v":2470,"s":"Walking Backwards Observations:"},{"h":26,"v":2395,"s":"Walking Backwards Observations:"},{"h":26,"v":2300,"s":"Walking Backwards Observations:"},{"h":26,"v":2150,"s":"Walking Backwards Observations:"},{"h":26,"v":1940,"s":"Walking Backwards Observations:"},
      {"h":27,"v":2515,"s":"Walking Backwards Observations:"},{"h":27,"v":2470,"s":"Walking Backwards Observations:"},{"h":27,"v":2420,"s":"Walking Backwards Observations:"},{"h":27,"v":2370,"s":"Walking Backwards Observations:"},{"h":27,"v":2320,"s":"Walking Backwards Observations:"},{"h":27,"v":2270,"s":"Walking Backwards Observations:"},{"h":27,"v":2220,"s":"Walking Backwards Observations:"},{"h":27,"v":2050,"s":"Walking Backwards Observations:"},
      {"h":28,"v":2470,"s":"Walking Backwards Observations:"},{"h":28,"v":2435,"s":"Walking Backwards Observations:"},
      {"h":29,"v":2660,"s":"Walking Backwards Observations:"},{"h":29,"v":2610,"s":"Walking Backwards Observations:"},{"h":29,"v":2560,"s":"Walking Backwards Observations:"},{"h":29,"v":2510,"s":"Walking Backwards Observations:"},{"h":29,"v":2460,"s":"Walking Backwards Observations:"},{"h":29,"v":2410,"s":"Walking Backwards Observations:"},{"h":29,"v":2360,"s":"Walking Backwards Observations:"},{"h":29,"v":2320,"s":"Walking Backwards Observations:"},
      {"h":30,"v":2740,"s":"Walking Backwards Observations:"},{"h":30,"v":2665,"s":"Walking Backwards Observations:"},{"h":30,"v":2615,"s":"Walking Backwards Observations:"},
      {"h":31,"v":2860,"s":"Walking Backwards Observations:"},{"h":31,"v":2810,"s":"Walking Backwards Observations:"},{"h":31,"v":2760,"s":"Walking Backwards Observations:"},{"h":31,"v":2710,"s":"Walking Backwards Observations:"},{"h":31,"v":2660,"s":"Walking Backwards Observations:"},{"h":31,"v":2610,"s":"Walking Backwards Observations:"},
      {"h":32,"v":2765,"s":"Walking Backwards Observations:"},{"h":32,"v":2690,"s":"Walking Backwards Observations:"},
      {"h":33,"v":3010,"s":"Walking Backwards Observations:"},{"h":33,"v":2960,"s":"Walking Backwards Observations:"},{"h":33,"v":2910,"s":"Walking Backwards Observations:"},{"h":33,"v":2860,"s":"Walking Backwards Observations:"},{"h":33,"v":2810,"s":"Walking Backwards Observations:"},{"h":33,"v":2760,"s":"Walking Backwards Observations:"},{"h":33,"v":2715,"s":"Walking Backwards Observations:"},
      {"h":34,"v":3060,"s":"Walking Backwards Observations:"},{"h":34,"v":3010,"s":"Walking Backwards Observations:"},{"h":34,"v":2960,"s":"Walking Backwards Observations:"},{"h":34,"v":2910,"s":"Walking Backwards Observations:"},{"h":34,"v":2860,"s":"Walking Backwards Observations:"},
      {"h":35,"v":3085,"s":"Walking Backwards Observations:"},{"h":35,"v":3035,"s":"Walking Backwards Observations:"},{"h":35,"v":2985,"s":"Walking Backwards Observations:"},{"h":35,"v":2935,"s":"Walking Backwards Observations:"},{"h":35,"v":2885,"s":"Walking Backwards Observations:"},
      {"h":36,"v":3090,"s":"Walking Backwards Observations:"},{"h":36,"v":2985,"s":"Walking Backwards Observations:"},
      {"h":37,"v":3205,"s":"Walking Backwards Observations:"},{"h":37,"v":3160,"s":"Walking Backwards Observations:"},{"h":37,"v":3120,"s":"Walking Backwards Observations:"},{"h":37,"v":3080,"s":"Walking Backwards Observations:"},{"h":37,"v":3035,"s":"Walking Backwards Observations:"},
      {"h":38,"v":3200,"s":"Walking Backwards Observations:"},{"h":38,"v":3150,"s":"Walking Backwards Observations:"},{"h":38,"v":3100,"s":"Walking Backwards Observations:"},{"h":38,"v":3060,"s":"Walking Backwards Observations:"},{"h":38,"v":3030,"s":"Walking Backwards Observations:"},
      {"h":39,"v":3200,"s":"Walking Backwards Observations:"},{"h":39,"v":3160,"s":"Walking Backwards Observations:"},{"h":39,"v":3110,"s":"Walking Backwards Observations:"},
      {"h":42,"v":3230,"s":"Walking Backwards Observations:"},{"h":43,"v":3230,"s":"Walking Backwards Observations:"}
    ],
    "fitB": [
      {"h":10,"v":-560},{"h":11,"v":-355},{"h":12,"v":-150},{"h":13,"v":55},{"h":14,"v":260},{"h":15,"v":465},{"h":16,"v":670},{"h":17,"v":870},{"h":18,"v":1065},{"h":19,"v":1255},{"h":20,"v":1435},{"h":21,"v":1605},{"h":22,"v":1760},{"h":23,"v":1900},{"h":24,"v":2030},{"h":25,"v":2155},{"h":26,"v":2275},{"h":27,"v":2395},{"h":28,"v":2505},{"h":29,"v":2615},{"h":30,"v":2715},{"h":31,"v":2810},{"h":32,"v":2895},{"h":33,"v":2970},{"h":34,"v":3040},{"h":35,"v":3100},{"h":36,"v":3150},{"h":37,"v":3192},{"h":38,"v":3222},{"h":39,"v":3243},{"h":40,"v":3253},{"h":41,"v":3252},{"h":42,"v":3238},{"h":43,"v":3212},{"h":44,"v":3172},{"h":45,"v":3110}
    ]
  },
  "resolve": {"scale": {"x": "independent", "y": "independent", "shape": "independent"}, "legend": {"shape": "independent"}},
  "spacing": 36,
  "hconcat": [
    {
      "title": {"text": "a)", "orient": "bottom", "anchor": "middle", "fontSize": 64, "dx": 90, "offset": 0},
      "vconcat": [
        {
          "width": 516,
          "height": 365,
          "layer": [
            {
              "data": {"name": "obsA"},
              "mark": {"type": "point", "filled": false, "color": "black", "strokeWidth": 1, "size": 78, "opacity": 1},
              "encoding": {
                "x": {"field": "h", "type": "quantitative", "scale": {"domain": [5, 40], "nice": false, "zero": false},
                  "axis": {"orient": "bottom", "values": [5, 10, 15, 20, 25, 30, 35, 40], "labelPadding": 11, "title": "Beacon Height (in pixels)", "titleX": 263, "titleY": 53, "titleAlign": "center", "titleBaseline": "alphabetic"}},
                "y": {"field": "v", "type": "quantitative", "scale": {"domain": [-2, 18], "nice": false, "zero": false},
                  "axis": {"orient": "left", "values": [-2, 0, 2, 4, 6, 8, 10, 12, 14, 16, 18], "title": ["Time", "(s)"], "titleAngle": 0, "titleAlign": "center", "titleBaseline": "alphabetic", "titleX": -51, "titleY": 162, "titleLineHeight": 29}},
                "shape": {"field": "s", "type": "nominal",
                  "scale": {"domain": ["Observations:", "Best Fit Cubic:"], "range": ["M-0.68,0L0.68,0M0,-0.68L0,0.68", "M-3,0h0.15M-2.7,0h0.15M-2.4,0h0.15M-2.1,0h0.15M-1.8,0h0.15M-1.5,0h0.15M-1.2,0h0.15M-0.9,0h0.15M-0.6,0h0.15M-0.3,0h0.15M0,0h0.15M0.3,0h0.15M0.6,0h0.15M0.9,0h0.15M1.2,0h0.15M1.5,0h0.15M1.8,0h0.15M2.1,0h0.15M2.4,0h0.15M2.7,0h0.15"]},
                  "legend": {"orient": "none", "legendX": 196, "legendY": 237, "title": null, "labelFont": "Liberation Serif", "labelFontSize": 28, "labelColor": "black", "labelAlign": "right", "labelOffset": -61, "symbolOffset": 210, "symbolSize": 484, "symbolStrokeWidth": 1, "symbolStrokeColor": "black", "symbolFillColor": "transparent", "symbolOpacity": 1, "strokeColor": "black", "fillColor": "white", "padding": 9, "rowPadding": 9,
                    "encode": {"symbols": {"stroke": {"value": "black"}, "fill": {"value": "transparent"}, "strokeWidth": {"value": 1}, "opacity": {"value": 1}}}}}
              }
            },
            {
              "data": {"name": "fitA"},
              "mark": {"type": "line", "color": "black", "strokeWidth": 1, "strokeDash": [3, 2]},
              "encoding": {
                "x": {"field": "h", "type": "quantitative", "axis": {"orient": "top", "values": [5, 10, 15, 20, 25, 30, 35, 40], "labels": false, "title": null}},
                "y": {"field": "v", "type": "quantitative", "axis": {"orient": "right", "values": [-2, 0, 2, 4, 6, 8, 10, 12, 14, 16, 18], "labels": false, "title": null}}
              }
            }
          ]
        }
      ]
    },
    {
      "title": {"text": "b)", "orient": "bottom", "anchor": "middle", "fontSize": 64, "dx": 78, "offset": 0},
      "vconcat": [
        {
          "width": 504,
          "height": 373,
          "title": {"text": "(mm)", "orient": "left", "angle": 0, "fontSize": 20, "align": "center", "baseline": "alphabetic", "offset": -75, "dy": 8},
          "layer": [
            {
              "data": {"name": "obsB"},
              "mark": {"type": "point", "filled": false, "color": "black", "strokeWidth": 1, "size": 31, "opacity": 1},
              "encoding": {
                "x": {"field": "h", "type": "quantitative", "scale": {"domain": [10, 45], "nice": false, "zero": false},
                  "axis": {"orient": "bottom", "values": [10, 15, 20, 25, 30, 35, 40, 45], "labelPadding": 10, "title": "Beacon Height (in pixels)", "titleX": 227, "titleY": 43, "titleAlign": "center", "titleBaseline": "alphabetic"}},
                "y": {"field": "v", "type": "quantitative", "scale": {"domain": [-2000, 3500], "nice": false, "zero": false},
                  "axis": {"orient": "left", "format": "d", "values": [-2000, -1500, -1000, -500, 0, 500, 1000, 1500, 2000, 2500, 3000, 3500], "title": "W\u2090(t)", "titleAngle": 0, "titleAlign": "center", "titleBaseline": "alphabetic", "titleX": -65, "titleY": 171}},
                "shape": {"field": "s", "type": "nominal",
                  "scale": {"domain": ["Walking Forwards Observations:", "Walking Backwards Observations:", "Best Fit Cubic (to all data):"], "range": ["M-1.07,0L1.07,0M0,-1.07L0,1.07", "M-0.857,-0.857L0.857,0.857M-0.857,0.857L0.857,-0.857", "M-3.36,0L3.36,0"]},
                  "legend": {"orient": "none", "legendX": 108, "legendY": 263, "title": null, "labelFont": "Liberation Serif", "labelFontSize": 21, "labelColor": "black", "labelAlign": "right", "labelOffset": -37, "symbolOffset": 314, "symbolSize": 196, "symbolStrokeWidth": 1, "symbolStrokeColor": "black", "symbolFillColor": "transparent", "symbolOpacity": 1, "strokeColor": "black", "fillColor": "white", "padding": 9, "rowPadding": 4,
                    "encode": {"symbols": {"stroke": {"value": "black"}, "fill": {"value": "transparent"}, "strokeWidth": {"value": 1}, "opacity": {"value": 1}}}}}
              }
            },
            {
              "data": {"name": "fitB"},
              "mark": {"type": "line", "color": "black", "strokeWidth": 1},
              "encoding": {
                "x": {"field": "h", "type": "quantitative", "axis": {"orient": "top", "values": [10, 15, 20, 25, 30, 35, 40, 45], "labels": false, "title": null}},
                "y": {"field": "v", "type": "quantitative", "axis": {"orient": "right", "values": [-2000, -1500, -1000, -500, 0, 500, 1000, 1500, 2000, 2500, 3000, 3500], "labels": false, "title": null}}
              }
            }
          ]
        }
      ]
    }
  ]
}
